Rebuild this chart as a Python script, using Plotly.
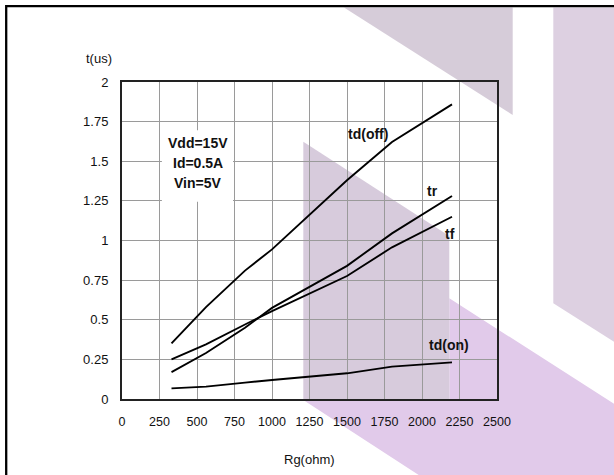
import plotly.graph_objects as go

# ---- data ----
rg = [330, 560, 820, 1000, 1500, 1800, 2200]
td_off = [0.351, 0.58, 0.81, 0.944, 1.38, 1.622, 1.859]
t_r = [0.17, 0.29, 0.45, 0.575, 0.84, 1.045, 1.281]
t_f = [0.25, 0.345, 0.47, 0.555, 0.776, 0.957, 1.15]
td_on = [0.067, 0.078, 0.103, 0.12, 0.162, 0.204, 0.231]

x_ticks = [0, 250, 500, 750, 1000, 1250, 1500, 1750, 2000, 2250, 2500]
y_ticks = [0, 0.25, 0.5, 0.75, 1, 1.25, 1.5, 1.75, 2]
y_tick_text = ["0", "0.25", "0.5", "0.75", "1", "1.25", "1.5", "1.75", "2"]

series_names = ["td(off)", "tr", "tf", "td(on)"]
label_pos = [(1637, 1.675), (2072, 1.313), (2185, 1.038), (2180, 0.339)]
cond_lines = ["Vdd=15V", "Id=0.5A", "Vin=5V"]

W, H = 614, 475
ML, MR, MT, MB = 122, 117, 82, 76
PW, PH = W - ML - MR, H - MT - MB


def px(x):
    return (x - ML) / PW


def py(y):
    return (H - MB - y) / PH


def poly(points, color):
    d = "M " + " L ".join(f"{px(a):.5f},{py(b):.5f}" for a, b in points) + " Z"
    return dict(type="path", xref="paper", yref="paper", path=d,
                fillcolor=color, line=dict(width=0), layer="below")


fig = go.Figure()
for name, ys in zip(series_names, [td_off, t_r, t_f, td_on]):
    fig.add_trace(go.Scatter(x=rg, y=ys, mode="lines", name=name,
                             line=dict(color="black", width=1.9),
                             showlegend=False, hoverinfo="skip"))

shapes = [
    poly([(344, 7.5), (512.7, 7.5), (512.7, 115)], "#d6ccd9"),
    poly([(553.3, 7.5), (620, 7.5), (620, 345.5), (553.3, 303.3)], "#ddd0e1"),
    poly([(449.3, 298.3), (620, 407.5), (620, 480), (426.4, 480),
          (303.3, 400), (449.3, 400)], "#e1caea"),
    poly([(303.3, 141.7), (449.3, 236), (449.3, 400), (303.3, 400)], "#d7cbdc"),
    # white box behind the conditions text
    dict(type="rect", xref="x", yref="y", x0=266, x1=740, y0=1.245, y1=1.696,
         fillcolor="white", line=dict(width=0), layer="above"),
    # outer frame
    dict(type="rect", xref="paper", yref="paper", x0=px(6.2), y0=py(6.2),
         x1=px(640), y1=py(500), line=dict(color="black", width=2.3),
         fillcolor="rgba(0,0,0,0)", layer="above"),
]

C = dict(xanchor="center", yanchor="middle", showarrow=False)
annotations = []
for name, (lx, ly) in zip(series_names, label_pos):
    annotations.append(dict(x=lx, y=ly, xref="x", yref="y", text=f"<b>{name}</b>",
                            font=dict(size=14, color="#111"), **C))
for i, line in enumerate(cond_lines):
    annotations.append(dict(x=px(197.5), y=py(143.3 + 20 * i), xref="paper", yref="paper",
                            text=f"<b>{line}</b>",
                            font=dict(size=14, color="#111"), **C))
annotations.append(dict(x=px(99), y=py(58.5), xref="paper", yref="paper",
                        text="t(us)", font=dict(size=13, color="#111"), **C))
annotations.append(dict(x=px(309.5), y=py(459), xref="paper", yref="paper",
                        text="Rg(ohm)", font=dict(size=13, color="#111"), **C))

fig.update_layout(
    width=W, height=H,
    margin=dict(l=ML, r=MR, t=MT, b=MB),
    paper_bgcolor="white",
    plot_bgcolor="rgba(0,0,0,0)",
    font=dict(family="Liberation Sans, Arial", size=13, color="#111"),
    shapes=shapes,
    annotations=annotations,
    hovermode=False,
    xaxis=dict(range=[0, 2500], tickvals=x_ticks, ticktext=[str(v) for v in x_ticks],
               showgrid=True, gridcolor="#9a9a9a", gridwidth=1,
               showline=True, linecolor="#222", linewidth=2, mirror=True,
               zeroline=False, ticks="", ticklabelstandoff=10,
               tickfont=dict(size=12.5)),
    yaxis=dict(range=[0, 2], tickvals=y_ticks, ticktext=y_tick_text,
               showgrid=True, gridcolor="#9a9a9a", gridwidth=1,
               showline=True, linecolor="#222", linewidth=2, mirror=True,
               zeroline=False, ticks="", ticklabelstandoff=9,
               tickfont=dict(size=13)),
)

fig.write_html("out.html", config={"displayModeBar": False},
               post_script="document.body.style.margin='0';document.body.style.overflow='hidden';")
